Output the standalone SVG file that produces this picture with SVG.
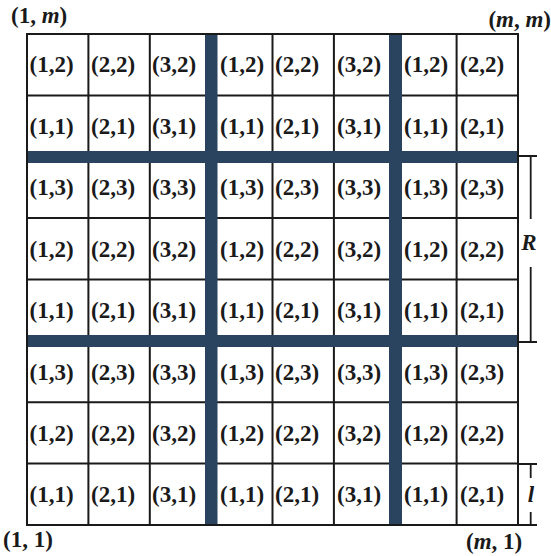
<svg xmlns="http://www.w3.org/2000/svg" width="551" height="556" viewBox="0 0 551 556">
<style>
.c{font-family:"Liberation Serif","Times New Roman",serif;font-weight:bold;font-size:23px;fill:#1a1a1a}
.lab{font-family:"Liberation Serif","Times New Roman",serif;font-weight:bold;font-size:23px;fill:#1a1a1a}
.it{font-style:italic}
.g{stroke:#1a1a1a;stroke-width:2;fill:none}
.bar{fill:#2a4460}
.ann{stroke:#1a1a1a;stroke-width:1.8;fill:none}
</style>
<rect width="551" height="556" fill="#ffffff"/>
<g id="grid">
<path class="g" d="M88.4,34V525M149.8,34V525M272.5,34V525M333.9,34V525M456.6,34V525M27,95.4H518M27,218.1H518M27,279.5H518M27,402.3H518M27,463.6H518"/>
<rect class="bar" x="205" y="34" width="12.5" height="491"/>
<rect class="bar" x="389" y="34" width="13" height="491"/>
<rect class="bar" x="27" y="151" width="491" height="12"/>
<rect class="bar" x="27" y="335" width="491" height="12"/>
<rect class="g" x="27" y="34" width="491" height="491"/>
</g>
<g id="cells">
<g id="r1"><text class="c" x="29.5" y="72">(1,2)</text><text class="c" x="91" y="72">(2,2)</text><text class="c" x="152" y="72">(3,2)</text><text class="c" x="220" y="72">(1,2)</text><text class="c" x="275" y="72">(2,2)</text><text class="c" x="337" y="72">(3,2)</text><text class="c" x="404" y="72">(1,2)</text><text class="c" x="460" y="72">(2,2)</text></g>
<g id="r2"><text class="c" x="29.5" y="133.5">(1,1)</text><text class="c" x="91" y="133.5">(2,1)</text><text class="c" x="152" y="133.5">(3,1)</text><text class="c" x="220" y="133.5">(1,1)</text><text class="c" x="275" y="133.5">(2,1)</text><text class="c" x="337" y="133.5">(3,1)</text><text class="c" x="404" y="133.5">(1,1)</text><text class="c" x="460" y="133.5">(2,1)</text></g>
<g id="r3"><text class="c" x="29.5" y="195">(1,3)</text><text class="c" x="91" y="195">(2,3)</text><text class="c" x="152" y="195">(3,3)</text><text class="c" x="220" y="195">(1,3)</text><text class="c" x="275" y="195">(2,3)</text><text class="c" x="337" y="195">(3,3)</text><text class="c" x="404" y="195">(1,3)</text><text class="c" x="460" y="195">(2,3)</text></g>
<g id="r4"><text class="c" x="29.5" y="256.5">(1,2)</text><text class="c" x="91" y="256.5">(2,2)</text><text class="c" x="152" y="256.5">(3,2)</text><text class="c" x="220" y="256.5">(1,2)</text><text class="c" x="275" y="256.5">(2,2)</text><text class="c" x="337" y="256.5">(3,2)</text><text class="c" x="404" y="256.5">(1,2)</text><text class="c" x="460" y="256.5">(2,2)</text></g>
<g id="r5"><text class="c" x="29.5" y="318">(1,1)</text><text class="c" x="91" y="318">(2,1)</text><text class="c" x="152" y="318">(3,1)</text><text class="c" x="220" y="318">(1,1)</text><text class="c" x="275" y="318">(2,1)</text><text class="c" x="337" y="318">(3,1)</text><text class="c" x="404" y="318">(1,1)</text><text class="c" x="460" y="318">(2,1)</text></g>
<g id="r6"><text class="c" x="29.5" y="379.5">(1,3)</text><text class="c" x="91" y="379.5">(2,3)</text><text class="c" x="152" y="379.5">(3,3)</text><text class="c" x="220" y="379.5">(1,3)</text><text class="c" x="275" y="379.5">(2,3)</text><text class="c" x="337" y="379.5">(3,3)</text><text class="c" x="404" y="379.5">(1,3)</text><text class="c" x="460" y="379.5">(2,3)</text></g>
<g id="r7"><text class="c" x="29.5" y="441">(1,2)</text><text class="c" x="91" y="441">(2,2)</text><text class="c" x="152" y="441">(3,2)</text><text class="c" x="220" y="441">(1,2)</text><text class="c" x="275" y="441">(2,2)</text><text class="c" x="337" y="441">(3,2)</text><text class="c" x="404" y="441">(1,2)</text><text class="c" x="460" y="441">(2,2)</text></g>
<g id="r8"><text class="c" x="29.5" y="502">(1,1)</text><text class="c" x="91" y="502">(2,1)</text><text class="c" x="152" y="502">(3,1)</text><text class="c" x="220" y="502">(1,1)</text><text class="c" x="275" y="502">(2,1)</text><text class="c" x="337" y="502">(3,1)</text><text class="c" x="404" y="502">(1,1)</text><text class="c" x="460" y="502">(2,1)</text></g>
</g>
<g id="corners">
<text class="lab" x="11" y="23">(1, <tspan class="it">m</tspan>)</text>
<text class="lab" x="551" y="27" text-anchor="end">(<tspan class="it">m</tspan>, <tspan class="it">m</tspan>)</text>
<text class="lab" x="3" y="547">(1, 1)</text>
<text class="lab" x="466" y="549">(<tspan class="it">m</tspan>, 1)</text>
</g>
<g id="connectors">
<path class="ann" d="M518,156H537M530.7,156V219M530.7,267V342M518,342H537"/>
<path class="ann" d="M518,464H537M530.7,464V478M530.7,512V525M518,525H537"/>
<text class="lab it" x="529" y="250" text-anchor="middle" font-size="22">R</text>
<text class="lab it" x="531" y="502" text-anchor="middle" font-size="22">l</text>
</g>
</svg>
